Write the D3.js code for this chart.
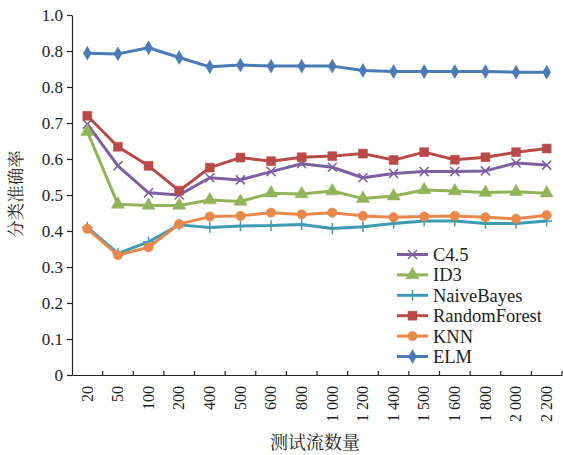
<!DOCTYPE html>
<html><head><meta charset="utf-8">
<script src="https://cdn.jsdelivr.net/npm/d3@7"></script>
<style>
body{margin:0;background:#fff;}
</style></head>
<body><svg id="chart" width="563" height="455"></svg>
<script>
const categories = ["20","50","100","200","400","500","600","800","1 000","1 200","1 400","1 500","1 600","1 800","2 000","2 200"];
const yTickValues = [0,0.1,0.2,0.3,0.4,0.5,0.6,0.7,0.8,0.9,1.0];
const yTickLabels = ["0","0.1","0.2","0.3","0.4","0.5","0.6","0.7","0.8","0.8","1.0"];
const seriesNames = ["C4.5","ID3","NaiveBayes","RandomForest","KNN","ELM"];
const c45  = [0.697,0.581,0.506,0.500,0.548,0.542,0.565,0.587,0.577,0.548,0.560,0.565,0.565,0.567,0.589,0.583];
const id3  = [0.676,0.474,0.471,0.471,0.486,0.482,0.505,0.503,0.511,0.490,0.497,0.514,0.511,0.507,0.509,0.505];
const nb   = [0.410,0.338,0.370,0.417,0.410,0.414,0.415,0.418,0.407,0.412,0.421,0.428,0.428,0.421,0.421,0.428];
const rf   = [0.720,0.634,0.581,0.512,0.576,0.604,0.594,0.605,0.608,0.615,0.597,0.619,0.598,0.605,0.619,0.629];
const knn  = [0.406,0.333,0.355,0.419,0.440,0.442,0.451,0.446,0.451,0.442,0.438,0.440,0.442,0.438,0.434,0.444];
const elm  = [0.894,0.892,0.909,0.882,0.856,0.861,0.858,0.858,0.858,0.846,0.843,0.843,0.843,0.843,0.841,0.841];

const seriesValues = [c45,id3,nb,rf,knn,elm];
const colors = ["#7D60A0","#93B35A","#3E9BB3","#B84A47","#E8884A","#4A7BB4"];
const symbols = [d3.symbolTimes,d3.symbolTriangle,d3.symbolPlus,d3.symbolSquare,d3.symbolCircle,d3.symbolDiamond];
const symSizes = [55,75,40,80,70,55];
const strokeSym = [true,false,true,false,false,false];

const latin = "Liberation Serif";
const cjk = "'Noto Serif CJK SC','Noto Sans CJK SC',serif";

const svg = d3.select("#chart");
const mLeft=72,mRight=562,mTop=15,mBottom=375;
const x = d3.scaleBand().domain(categories).range([mLeft,mRight]).padding(0);
const y = d3.scaleLinear().domain([0,1]).range([mBottom,mTop]);
const cx = d => x(d)+x.bandwidth()/2;

// y axis
const ya = svg.append("g").attr("transform",`translate(${mLeft},0)`)
  .call(d3.axisLeft(y).tickValues(yTickValues).tickFormat((d,i)=>yTickLabels[i]).tickSize(5).tickSizeOuter(0));
ya.attr("font-family",latin);
ya.select(".domain").attr("stroke","#222").attr("stroke-width",1.2);
ya.selectAll(".tick line").attr("stroke","#222").attr("stroke-width",1.2);
ya.selectAll(".tick text").attr("font-size",17).attr("x",-9).attr("fill","#222");

// x axis
const xa = svg.append("g").attr("transform",`translate(0,${mBottom})`)
  .call(d3.axisBottom(x).tickSize(0).tickSizeOuter(0));
xa.attr("font-family",latin);
xa.select(".domain").attr("stroke","#222").attr("stroke-width",1.2);
xa.selectAll(".tick text").attr("font-size",16).attr("transform","rotate(-90)")
  .attr("text-anchor","end").attr("x",-11).attr("y",0).attr("dy","0.33em").attr("fill","#222");
xa.selectAll(".bound").data(categories).enter().append("line")
  .attr("x1",d=>x(d)+x.bandwidth()).attr("x2",d=>x(d)+x.bandwidth())
  .attr("y1",0).attr("y2",-4).attr("stroke","#222").attr("stroke-width",1.2);

// series
const line = d3.line().x((d,i)=>cx(categories[i])).y(d=>y(d));
seriesValues.forEach((vals,k)=>{
  const g = svg.append("g");
  g.append("path").datum(vals).attr("d",line).attr("fill","none")
    .attr("stroke",colors[k]).attr("stroke-width",3).attr("stroke-linejoin","round");
  g.selectAll("path.m").data(vals).enter().append("path").attr("class","m")
    .attr("transform",(d,i)=>`translate(${cx(categories[i])},${y(d)})`)
    .attr("d",d3.symbol().type(symbols[k]).size(symSizes[k]))
    .attr("fill",strokeSym[k]?"none":colors[k])
    .attr("stroke",colors[k]).attr("stroke-width",strokeSym[k]?1.5:0.5);
});

// legend
const lg = svg.append("g").attr("font-family",latin);
seriesNames.forEach((n,k)=>{
  const yy = 254.5 + k*20.4;
  lg.append("line").attr("x1",397).attr("x2",428).attr("y1",yy).attr("y2",yy)
    .attr("stroke",colors[k]).attr("stroke-width",3);
  lg.append("path").attr("transform",`translate(412.5,${yy})`)
    .attr("d",d3.symbol().type(symbols[k]).size(symSizes[k]))
    .attr("fill",strokeSym[k]?"none":colors[k]).attr("stroke",colors[k])
    .attr("stroke-width",strokeSym[k]?1.5:0.5);
  lg.append("text").attr("x",433).attr("y",yy).attr("dy","0.35em")
    .attr("font-size",18.5).attr("fill","#222").text(n);
});

// titles
svg.append("text").attr("transform","translate(22,194) rotate(-90)")
  .attr("text-anchor","middle").attr("font-size",17.5).attr("font-family",cjk).attr("fill","#222").text("分类准确率");
svg.append("text").attr("x",315).attr("y",449)
  .attr("text-anchor","middle").attr("font-size",18).attr("font-family",cjk).attr("fill","#222").text("测试流数量");
</script></body></html>
